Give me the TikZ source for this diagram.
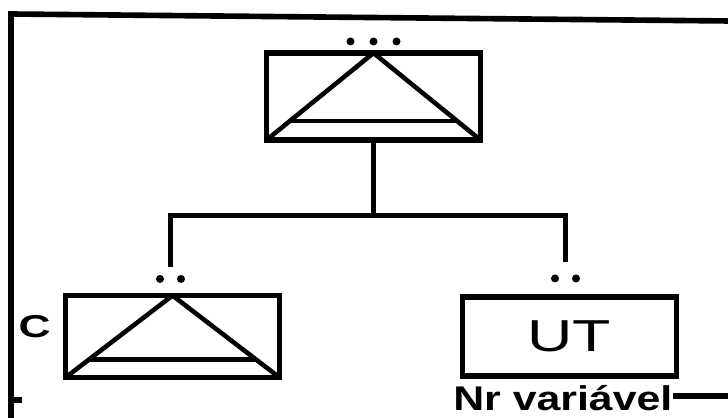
\documentclass[tikz,border=0pt]{standalone}
\usepackage{graphicx}
\usepackage{fontspec}
\setmainfont{Liberation Sans}
\usetikzlibrary{positioning, calc}

% stretched lettering
\newcommand{\wide}[2][1.4]{\scalebox{#1}[1]{#2}}

\tikzset{
  frame/.style  ={line width=3.2pt},
  link/.style   ={line width=2.8pt},
  unitbox/.style={draw, line width=2.9pt, minimum width=4.28cm,
                  minimum height=1.64cm, inner sep=0pt},
  treebox/.style={unitbox, path picture={
      \draw[line width=2.6pt]
        (path picture bounding box.south west) -- (path picture bounding box.north)
        -- (path picture bounding box.south east);
      \draw[line width=2.6pt]
        ($(path picture bounding box.north)!0.78!(path picture bounding box.south west)$)
        -- ($(path picture bounding box.north)!0.78!(path picture bounding box.south east)$);}},
  dotmark/.style={fill=black},
  unittext/.style={font=\fontsize{25.5}{28}\selectfont},
  tag/.style    ={font=\fontsize{18}{20}\selectfont\bfseries, inner sep=0pt},
  vartag/.style ={font=\fontsize{19.5}{22}\selectfont\bfseries, inner sep=0pt}
}

\begin{document}
\begin{tikzpicture}[x=0.02cm, y=-0.02cm]
  \useasboundingbox (0,0) rectangle (728,418);

  % outer frame
  \coordinate (fr-tl) at (11,14);
  \coordinate (fr-tr) at (730,21);
  \coordinate (fr-bl) at (11,420);
  \coordinate (fr-tick) at (11,400);
  \coordinate (fr-br) at (730,396);
  \draw[frame] (fr-bl) -- (fr-tl) -- (fr-tr);
  \draw[frame] (fr-tick) -- ++(11,0);

  % boxes
  \node[treebox, minimum height=1.74cm] (root) at (373.5,96.5) {};
  \node[treebox]                        (sub)  at (172.5,336.5) {};
  \node[unitbox, minimum height=1.58cm, unittext] (ut) at (569.5,336.5) {\wide{UT}};

  \foreach \dx in {-23,0,23}
    \fill[dotmark] ($(root.north)+(\dx,-9)$) circle[radius=0.08cm];

  % branches
  \coordinate (fork)   at ($(root.south)+(0,73)$);
  \coordinate (subtop) at ($(sub.north)+(-2,-26)$);
  \coordinate (uttop)  at ($(ut.north)+(-4,-32)$);
  \draw[link] (root.south) -- (fork);
  \draw[link] (subtop) -- (subtop |- fork) -- (uttop |- fork) -- (uttop);

  \foreach \dx in {-10.5,10.5} {
    \fill[dotmark] ($(subtop)+(\dx,12)$) circle[radius=0.08cm];
    \fill[dotmark] ($(uttop)+(\dx,16)$) circle[radius=0.08cm];
  }

  % labels
  \node[tag, anchor=east] (c) at ($(sub.west)+(-12,-10)$) {\wide{C}};
  \node[vartag, anchor=base west] (nr) at ($(ut.south west)+(-7,32)$) {\wide[1.25]{Nr variável}};
  \draw[frame] (nr.east |- fr-br) -- (fr-br);
\end{tikzpicture}
\end{document}
